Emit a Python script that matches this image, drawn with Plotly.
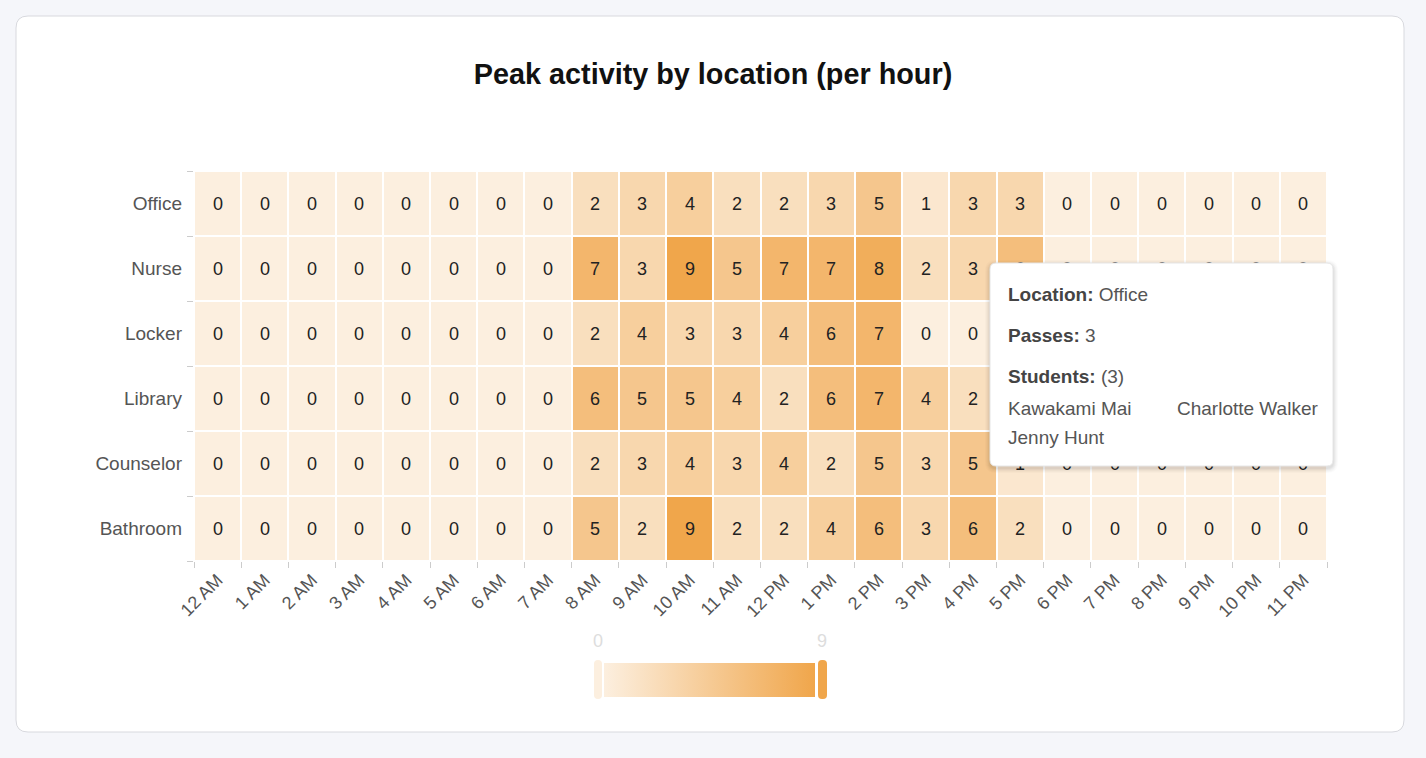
import plotly.graph_objects as go

hours = ["12 AM", "1 AM", "2 AM", "3 AM", "4 AM", "5 AM", "6 AM", "7 AM", "8 AM", "9 AM",
         "10 AM", "11 AM", "12 PM", "1 PM", "2 PM", "3 PM", "4 PM", "5 PM", "6 PM", "7 PM",
         "8 PM", "9 PM", "10 PM", "11 PM"]
locations = ["Office", "Nurse", "Locker", "Library", "Counselor", "Bathroom"]

office    = [0, 0, 0, 0, 0, 0, 0, 0, 2, 3, 4, 2, 2, 3, 5, 1, 3, 3, 0, 0, 0, 0, 0, 0]
nurse     = [0, 0, 0, 0, 0, 0, 0, 0, 7, 3, 9, 5, 7, 7, 8, 2, 3, 6, 0, 0, 0, 0, 0, 0]
locker    = [0, 0, 0, 0, 0, 0, 0, 0, 2, 4, 3, 3, 4, 6, 7, 0, 0, 1, 0, 0, 0, 0, 0, 0]
library   = [0, 0, 0, 0, 0, 0, 0, 0, 6, 5, 5, 4, 2, 6, 7, 4, 2, 2, 0, 0, 0, 0, 0, 0]
counselor = [0, 0, 0, 0, 0, 0, 0, 0, 2, 3, 4, 3, 4, 2, 5, 3, 5, 1, 0, 0, 0, 0, 0, 0]
bathroom  = [0, 0, 0, 0, 0, 0, 0, 0, 5, 2, 9, 2, 2, 4, 6, 3, 6, 2, 0, 0, 0, 0, 0, 0]

tooltip_location = "Office"
tooltip_passes = 3
tooltip_students = ["Kawakami Mai", "Charlotte Walker", "Jenny Hunt"]
# rows whose cell labels are fully hidden behind the tooltip, from this hour on
covered_rows = ["Locker", "Library"]
covered_from_hour = "5 PM"

z = [office, nurse, locker, library, counselor, bathroom]
cut = hours.index(covered_from_hour)
text = [[("" if (locations[r] in covered_rows and c >= cut) else str(v)) for c, v in enumerate(row)]
        for r, row in enumerate(z)]

W, H = 1426, 758
L, R, T, B = 194, 1327, 171, 561
PW, PH = R - L, B - T
FONT = "Liberation Sans, Arial, sans-serif"


def fx(px):
    return (px - L) / PW


def fy(py):
    return (B - py) / PH


def rrect(x0, y0, x1, y1, r):
    pts = [
        f"M {fx(x0 + r)} {fy(y0)}",
        f"L {fx(x1 - r)} {fy(y0)}",
        f"Q {fx(x1)} {fy(y0)} {fx(x1)} {fy(y0 + r)}",
        f"L {fx(x1)} {fy(y1 - r)}",
        f"Q {fx(x1)} {fy(y1)} {fx(x1 - r)} {fy(y1)}",
        f"L {fx(x0 + r)} {fy(y1)}",
        f"Q {fx(x0)} {fy(y1)} {fx(x0)} {fy(y1 - r)}",
        f"L {fx(x0)} {fy(y0 + r)}",
        f"Q {fx(x0)} {fy(y0)} {fx(x0 + r)} {fy(y0)}",
        "Z",
    ]
    return " ".join(pts)


colorscale = [[0, "#fcefdf"], [1, "#f0a64b"]]

fig = go.Figure()
fig.add_trace(go.Heatmap(
    z=z,
    x=list(range(len(hours))),
    y=list(range(len(locations))),
    zmin=0, zmax=9,
    colorscale=colorscale,
    xgap=2, ygap=2,
    text=text,
    texttemplate="%{text}",
    textfont=dict(size=18, color="#222222", family=FONT),
    hoverinfo="skip",
    colorbar=dict(
        orientation="h",
        xref="paper", yref="paper",
        x=fx(709.5), xanchor="center",
        y=fy(680), yanchor="middle",
        len=211, lenmode="pixels",
        thickness=34, thicknessmode="pixels",
        xpad=0, ypad=0,
        outlinewidth=0,
        showticklabels=False, ticks="",
    ),
))

shapes = []
shapes.append(dict(type="path", xref="paper", yref="paper", path=rrect(16, 16, 1404, 732, 12),
                   fillcolor="white", line=dict(color="#d8d9de", width=1), layer="below"))
shapes.append(dict(type="path", xref="paper", yref="paper", path=rrect(594, 660, 602, 699, 4),
                   fillcolor="#fcefdf", line=dict(width=0), layer="above"))
shapes.append(dict(type="path", xref="paper", yref="paper", path=rrect(818, 660, 827, 699, 4),
                   fillcolor="#f0a64b", line=dict(width=0), layer="above"))
for i, op in enumerate([0.035, 0.03, 0.025, 0.02, 0.015]):
    d = i + 1
    shapes.append(dict(type="path", xref="paper", yref="paper",
                       path=rrect(990 - d, 263 - d + 2, 1333 + d, 466 + d + 2, 6 + d),
                       fillcolor=f"rgba(0,0,0,{op})", line=dict(width=0), layer="above"))
shapes.append(dict(type="path", xref="paper", yref="paper", path=rrect(990, 263, 1333, 466, 6),
                   fillcolor="white", line=dict(color="#e6e6e6", width=1), layer="above"))

tfont = dict(size=19, color="#555555", family=FONT)
annotations = [
    dict(x=fx(598), y=fy(641), xref="paper", yref="paper", text="0", showarrow=False,
         font=dict(size=18, color="#dddddd", family=FONT), xanchor="center", yanchor="middle"),
    dict(x=fx(822), y=fy(641), xref="paper", yref="paper", text="9", showarrow=False,
         font=dict(size=18, color="#dddddd", family=FONT), xanchor="center", yanchor="middle"),
    dict(x=fx(1006), y=fy(294), xref="paper", yref="paper",
         text=f"<b style='color:#444'>Location:</b> {tooltip_location}",
         showarrow=False, font=tfont, xanchor="left", yanchor="middle"),
    dict(x=fx(1006), y=fy(335), xref="paper", yref="paper",
         text=f"<b style='color:#444'>Passes:</b> {tooltip_passes}",
         showarrow=False, font=tfont, xanchor="left", yanchor="middle"),
    dict(x=fx(1006), y=fy(376), xref="paper", yref="paper",
         text=f"<b style='color:#444'>Students:</b> ({len(tooltip_students)})",
         showarrow=False, font=tfont, xanchor="left", yanchor="middle"),
    dict(x=fx(1006), y=fy(408), xref="paper", yref="paper", text=tooltip_students[0],
         showarrow=False, font=tfont, xanchor="left", yanchor="middle"),
    dict(x=fx(1175), y=fy(408), xref="paper", yref="paper", text=tooltip_students[1],
         showarrow=False, font=tfont, xanchor="left", yanchor="middle"),
    dict(x=fx(1006), y=fy(437), xref="paper", yref="paper", text=tooltip_students[2],
         showarrow=False, font=tfont, xanchor="left", yanchor="middle"),
]

fig.update_layout(
    width=W, height=H,
    margin=dict(l=L, r=W - R, t=T, b=H - B),
    paper_bgcolor="#f5f6fa",
    plot_bgcolor="white",
    font=dict(family=FONT, color="#555555"),
    title=dict(text="<b>Peak activity by location (per hour)</b>",
               x=0.5, xref="container", xanchor="center",
               y=1 - 74 / H, yref="container", yanchor="middle",
               font=dict(size=28.8, color="#111111")),
    xaxis=dict(
        range=[-0.5, len(hours) - 0.5],
        tickmode="array", tickvals=list(range(len(hours))), ticktext=hours,
        tickangle=-45, ticks="", showgrid=False, zeroline=False, showline=False,
        tickfont=dict(size=18, color="#555555"),
        ticklabelstandoff=4,
        minor=dict(ticks="outside", tick0=-0.5, dtick=1, ticklen=6, tickcolor="#cccccc",
                   tickwidth=1, showgrid=False),
    ),
    yaxis=dict(
        range=[len(locations) - 0.5, -0.5],
        tickmode="array", tickvals=list(range(len(locations))), ticktext=locations,
        ticks="", showgrid=False, zeroline=False, showline=False,
        tickfont=dict(size=19, color="#555555"),
        ticklabelstandoff=11,
        minor=dict(ticks="outside", tick0=-0.5, dtick=1, ticklen=6, tickcolor="#cccccc",
                   tickwidth=1, showgrid=False),
    ),
    shapes=shapes,
    annotations=annotations,
)

fig.write_html("out.html")
